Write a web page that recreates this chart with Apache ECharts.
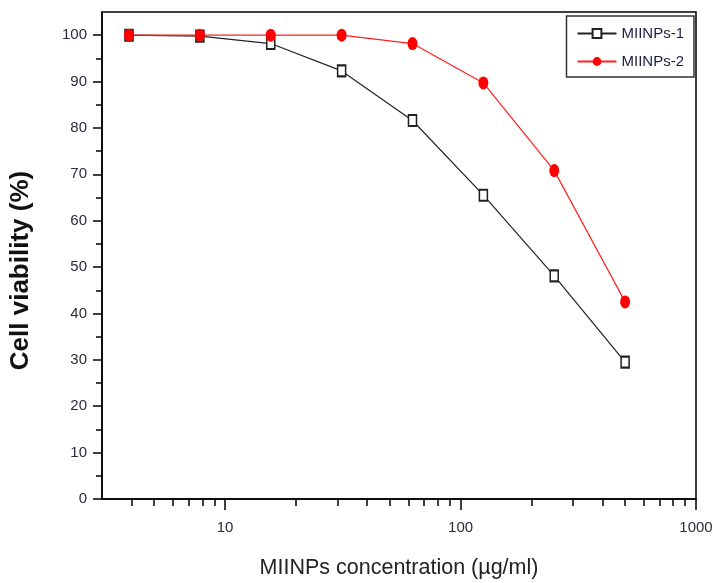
<!DOCTYPE html>
<html>
<head>
<meta charset="utf-8">
<script src="https://cdn.jsdelivr.net/npm/echarts@6/dist/echarts.min.js"></script>
<style>
  html, body { margin: 0; padding: 0; background: #fff; }
  #chart { width: 713px; height: 583px; }
</style>
</head>
<body>
<div id="chart"></div>
<script>
// Concentrations (µg/ml), two-fold dilution series
const concentrations = [3.90625, 7.8125, 15.625, 31.25, 62.5, 125, 250, 500];
// Cell viability (%) for each nanoparticle batch
const viabilityM1 = [100, 99.8, 98.2, 92.3, 81.6, 65.5, 48.1, 29.5];
const viabilityM2 = [100, 100, 100, 100, 98.2, 89.7, 70.8, 42.5];

// Axis ticks
const xMajorTicks = [10, 100, 1000];
const xMinorTicks = [4, 5, 6, 7, 8, 9, 20, 30, 40, 50, 60, 70, 80, 90, 200, 300, 400, 500, 600, 700, 800, 900];
const yMajorTicks = [0, 10, 20, 30, 40, 50, 60, 70, 80, 90, 100];
const yMinorTicks = [5, 15, 25, 35, 45, 55, 65, 75, 85, 95];

const pairs = (xs, ys) => xs.map((x, i) => [x, ys[i]]);

const labelFont = '"Liberation Sans", Arial, sans-serif';
const labelColor = '#2b2b3f';
const axisLineStyle = { color: '#000', width: 1.5 };

const chart = echarts.init(document.getElementById('chart'), null, { renderer: 'canvas' });

chart.setOption({
  backgroundColor: '#fff',
  animation: false,
  grid: {
    left: 102, right: 17, top: 12, bottom: 84,
    outerBoundsMode: 'none',
    show: true, borderColor: '#000', borderWidth: 1.5, backgroundColor: 'transparent'
  },
  legend: {
    right: 19, top: 16,
    orient: 'vertical',
    itemWidth: 39, itemHeight: 11, itemGap: 13,
    padding: [10, 10, 8, 10],
    borderColor: '#333', borderWidth: 1.5,
    textStyle: { fontFamily: labelFont, fontSize: 15, color: '#1c1c44' },
    data: ['MIINPs-1', 'MIINPs-2']
  },
  xAxis: [
    {
      type: 'log', logBase: 10, min: 3, max: 1000, position: 'bottom',
      name: 'MIINPs concentration (\u00b5g/ml)',
      nameLocation: 'middle', nameGap: 58,
      nameTextStyle: { fontFamily: labelFont, fontSize: 21.5, color: '#222' },
      axisLine: { show: true, lineStyle: axisLineStyle },
      axisTick: { show: true, inside: false, length: 11, customValues: xMajorTicks, lineStyle: { color: '#000', width: 1.5 } },
      axisLabel: { show: true, customValues: xMajorTicks, margin: 21, fontFamily: labelFont, fontSize: 15, color: labelColor,
        formatter: v => String(v) },
      splitLine: { show: false },
      minorTick: { show: false }
    },
    {
      type: 'log', logBase: 10, min: 3, max: 1000, position: 'bottom',
      axisLine: { show: false },
      axisTick: { show: true, inside: false, length: 7, customValues: xMinorTicks, lineStyle: { color: '#000', width: 1.5 } },
      axisLabel: { show: false },
      splitLine: { show: false }
    }
  ],
  yAxis: [
    {
      type: 'value', min: 0, max: 105, position: 'left',
      name: 'Cell viability (%)',
      nameLocation: 'middle', nameGap: 68, nameRotate: 90,
      nameTextStyle: { fontFamily: labelFont, fontSize: 26, fontWeight: 'bold', color: '#111', padding: [0, 30, 0, 0] },
      axisLine: { show: true, lineStyle: axisLineStyle },
      axisTick: { show: true, inside: false, length: 9, customValues: yMajorTicks, lineStyle: { color: '#000', width: 1.5 } },
      axisLabel: { show: true, customValues: yMajorTicks, margin: 15, fontFamily: labelFont, fontSize: 15, color: labelColor },
      splitLine: { show: false }
    },
    {
      type: 'value', min: 0, max: 105, position: 'left',
      axisLine: { show: false },
      axisTick: { show: true, inside: false, length: 6, customValues: yMinorTicks, lineStyle: { color: '#000', width: 1.5 } },
      axisLabel: { show: false },
      splitLine: { show: false }
    }
  ],
  series: [
    {
      name: 'MIINPs-1', type: 'line', xAxisIndex: 0, yAxisIndex: 0,
      data: pairs(concentrations, viabilityM1),
      symbol: 'rect', symbolSize: [8, 11],
      itemStyle: { color: '#fff', borderColor: '#222', borderWidth: 1.8 },
      lineStyle: { color: '#222', width: 1.2 },
      z: 2
    },
    {
      name: 'MIINPs-2', type: 'line', xAxisIndex: 0, yAxisIndex: 0,
      data: pairs(concentrations, viabilityM2),
      symbol: 'circle', symbolSize: [10, 13],
      itemStyle: { color: '#ff0000', borderColor: '#ff0000', borderWidth: 0 },
      lineStyle: { color: '#ff2020', width: 1.2 },
      z: 3
    }
  ]
});
</script>
</body>
</html>
